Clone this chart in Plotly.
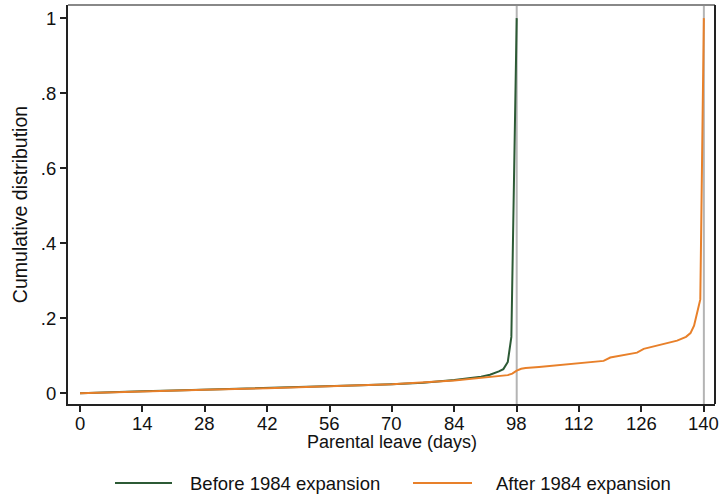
import plotly.graph_objects as go

# Data
before_days = [0, 7, 14, 21, 28, 35, 42, 49, 56, 63, 70, 77, 84, 88, 90, 92, 93, 94, 95, 96, 96.8, 98]
before_cdf = [0, 0.003, 0.005, 0.007, 0.009, 0.011, 0.013, 0.015, 0.018, 0.021, 0.024, 0.028, 0.035,
              0.040, 0.044, 0.049, 0.053, 0.058, 0.064, 0.083, 0.15, 1.0]

after_days = [0, 14, 28, 42, 56, 70, 84, 90, 94, 96, 97, 98, 99, 100, 103, 108, 112, 116, 117.5, 119,
              122, 125, 126.5, 128, 131, 134, 136, 137, 137.8, 138.5, 139.2, 140]
after_cdf = [0, 0.005, 0.009, 0.013, 0.018, 0.024, 0.034, 0.040, 0.045, 0.048, 0.052, 0.060, 0.065,
             0.067, 0.070, 0.075, 0.080, 0.084, 0.086, 0.095, 0.101, 0.108, 0.118, 0.122, 0.132, 0.140,
             0.150, 0.160, 0.180, 0.213, 0.25, 1.0]

series_names = ["Before 1984 expansion", "After 1984 expansion"]
ref_days = [98, 140]
x_ticks = [0, 14, 28, 42, 56, 70, 84, 98, 112, 126, 140]
y_ticks = [0, 0.2, 0.4, 0.6, 0.8, 1.0]
y_tick_text = ["0", ".2", ".4", ".6", ".8", "1"]
x_title = "Parental leave (days)"
y_title = "Cumulative distribution"

GREEN = "#2c5a35"
ORANGE = "#e8802a"
FONT = "Liberation Sans, Arial, sans-serif"

W, H = 720, 498
ML, MR, MT, MB = 68, 5, 5, 94
PW = W - ML - MR
PH = H - MT - MB

fig = go.Figure()
fig.add_trace(go.Scatter(x=before_days, y=before_cdf, mode="lines", name=series_names[0],
                         line=dict(color=GREEN, width=2), showlegend=False))
fig.add_trace(go.Scatter(x=after_days, y=after_cdf, mode="lines", name=series_names[1],
                         line=dict(color=ORANGE, width=2), showlegend=False))

for d in ref_days:
    fig.add_vline(x=d, line=dict(color="#b4b4b4", width=2), layer="below")

# frame: top gray, right black
fig.add_shape(type="line", xref="paper", yref="paper", x0=0, x1=1, y0=1, y1=1,
              line=dict(color="#888888", width=2))
fig.add_shape(type="line", xref="paper", yref="paper", x0=1, x1=1, y0=0, y1=1,
              line=dict(color="#222222", width=2))

def px_x(p):
    return (p - ML) / PW

def px_y(p):
    return (H - MB - p) / PH

# x tick labels (placed tight under the ticks)
for t in x_ticks:
    fig.add_annotation(xref="x", yref="paper", x=t, y=px_y(423), text=str(t),
                       showarrow=False, xanchor="center", yanchor="middle",
                       font=dict(size=18.5, family=FONT, color="#111111"))

# x-axis title
fig.add_annotation(xref="paper", yref="paper", x=0.5, y=px_y(442), text=x_title,
                   showarrow=False, xanchor="center", yanchor="middle",
                   font=dict(size=18, family=FONT, color="#111111"))

# manual legend
leg_y = 483
legend_items = [(115, 172, 188, GREEN, series_names[0]), (413, 472, 494, ORANGE, series_names[1])]
for x0, x1, tx, col, name in legend_items:
    fig.add_shape(type="line", xref="paper", yref="paper", x0=px_x(x0), x1=px_x(x1),
                  y0=px_y(leg_y), y1=px_y(leg_y), line=dict(color=col, width=2))
    fig.add_annotation(xref="paper", yref="paper", x=px_x(tx), y=px_y(leg_y), text=name,
                       showarrow=False, xanchor="left", yanchor="middle",
                       font=dict(size=18.5, family=FONT, color="#111111"))

fig.update_layout(
    width=W, height=H,
    margin=dict(l=ML, r=MR, t=MT, b=MB, autoexpand=False),
    plot_bgcolor="white", paper_bgcolor="white",
    font=dict(family=FONT, size=18.5, color="#111111"),
    showlegend=False,
    xaxis=dict(range=[-2.7, 142.5], tickvals=x_ticks, ticks="outside", ticklen=6,
               tickcolor="#222222", tickwidth=1.5, showgrid=False, zeroline=False,
               showline=True, linecolor="#222222", linewidth=2, showticklabels=False),
    yaxis=dict(range=[-0.029, 1.035], tickvals=y_ticks, ticktext=y_tick_text, ticks="outside",
               ticklen=6, tickcolor="#222222", tickwidth=1.5, showgrid=False, zeroline=False,
               showline=True, linecolor="#222222", linewidth=2, tickfont=dict(size=18.5),
               title=dict(text=y_title, standoff=8, font=dict(size=19.5))),
)

fig.write_html("out.html")
